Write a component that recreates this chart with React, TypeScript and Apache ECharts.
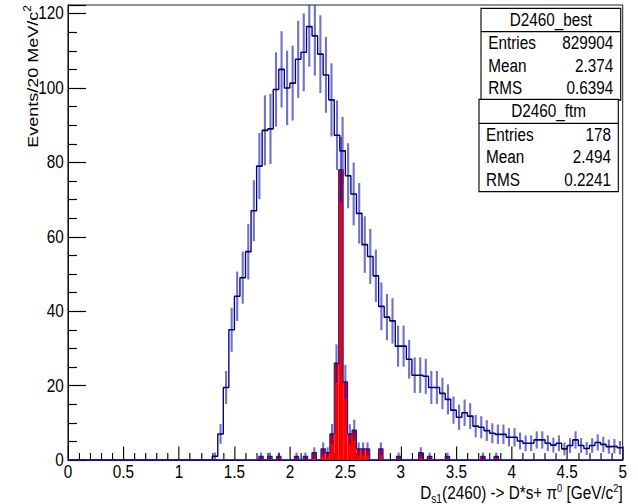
import React, { useEffect, useRef } from 'react';
import * as echarts from 'echarts';

// ---- layout scale (text in the reference is horizontally condensed) ----
const W = 751;
const H = 504;
const S = 638 / W;

// ---- data ----
const BLUE_BIN = 0.05; // D2460_best, 100 bins on [0, 5]
const blueCounts = [
  0, 0, 0, 0, 0, 0, 0, 0, 0, 0,
  0, 0, 0, 0, 0, 0, 0, 0, 0, 0,
  0, 0, 0, 0, 0, 0,
  1, 7, 19.5, 35, 44, 49, 56, 67, 79, 88.6,
  89, 99.6, 105, 100, 101.3, 107.7, 109.6, 116.5, 114, 109.1,
  103.5, 96.8, 87.3, 83.1, 76.4, 71.5, 66.3, 57.9, 54.7, 49.5,
  41.3, 38.4, 37.4, 30.6, 30.6, 27.1, 22.8, 22.8, 22.5, 19.5,
  19.5, 17.9, 16.3, 13.4, 11.5, 12.7, 11.8, 9.1, 8.8, 7.9,
  7.2, 6.9, 6.9, 6.1, 6.1, 5.1, 4.5, 4.5, 5.4, 5.4,
  4.5, 4.0, 4.5, 3.0, 3.9, 5.4, 3.9, 3.1, 3.9, 4.7,
  4.2, 3.6, 3.7, 3.3,
];

const RED_BIN = 0.04; // D2460_ftm, 125 bins on [0, 5]
const redBinStarts = [1.72, 1.8, 1.88, 2.04, 2.12, 2.2, 2.28, 2.32, 2.36, 2.4, 2.44, 2.48, 2.52, 2.56, 2.6, 2.64, 2.68, 2.8, 2.96, 3.16, 3.24, 3.4, 3.72, 3.84];
const redCounts = [1, 1, 1, 1, 1, 2, 3, 2, 7, 26, 78, 21, 7, 8, 3, 3, 3, 3, 1, 2, 1, 1, 1, 1];

const X_MIN = 0;
const X_MAX = 5;
const X_INTERVAL = 0.5;
const Y_MIN = 0;
const Y_MAX = 122.3;
const Y_INTERVAL = 20;

const statBestTitle = 'D2460_best';
const statBestLabels = ['Entries', 'Mean', 'RMS'];
const statBestValues = ['829904', '2.374', '0.6394'];
const statFtmTitle = 'D2460_ftm';
const statFtmLabels = ['Entries', 'Mean', 'RMS'];
const statFtmValues = ['178', '2.494', '0.2241'];

const yTitle = 'Events/20 MeV/c';
const FONT = '"Liberation Sans", Arial, Helvetica, sans-serif';

function px(x: number) {
  return x / S;
}

export default function App() {
  const ref = useRef<HTMLDivElement>(null);

  useEffect(() => {
    if (!ref.current) return;
    const chart = echarts.init(ref.current, null, { renderer: 'svg' });

    // blue step outline
    const blueStep: number[][] = [];
    blueCounts.forEach((v, i) => {
      blueStep.push([+(i * BLUE_BIN).toFixed(4), v]);
      blueStep.push([+((i + 1) * BLUE_BIN).toFixed(4), v]);
    });
    const blueErr: number[][] = [];
    blueCounts.forEach((v, i) => {
      if (v > 0) {
        const e = Math.sqrt(v);
        blueErr.push([(i + 0.5) * BLUE_BIN, Math.max(v - e, Y_MIN), Math.min(v + e, Y_MAX)]);
      }
    });

    // red histogram expanded to full bins
    const nRed = Math.round((X_MAX - X_MIN) / RED_BIN);
    const redFull = new Array(nRed).fill(0);
    redBinStarts.forEach((s, k) => {
      const idx = Math.round(s / RED_BIN);
      redFull[idx] = redCounts[k];
    });
    const redStep: number[][] = [];
    redFull.forEach((v, i) => {
      redStep.push([+(i * RED_BIN).toFixed(4), v]);
      redStep.push([+((i + 1) * RED_BIN).toFixed(4), v]);
    });
    const redBars: number[][] = [];
    const redErr: number[][] = [];
    redFull.forEach((v, i) => {
      if (v > 0) {
        redBars.push([i * RED_BIN, (i + 1) * RED_BIN, v]);
        const e = Math.sqrt(v);
        redErr.push([(i + 0.5) * RED_BIN, Math.max(v - e, Y_MIN), Math.min(v + e, Y_MAX)]);
      }
    });

    const errColor = 'rgba(10,10,165,0.58)';
    const errRender = (params: any, api: any) => {
      const p1 = api.coord([api.value(0), api.value(1)]);
      const p2 = api.coord([api.value(0), api.value(2)]);
      return {
        type: 'line',
        shape: { x1: p1[0], y1: p1[1], x2: p2[0], y2: p2[1] },
        style: { stroke: errColor, lineWidth: 2.5 },
      };
    };

    const gridLeft = px(68);
    const gridRight = W - px(622.7);

    const statBox = (
      x1: number, x2: number, y1: number, yDiv: number, y2: number,
      title: string, labels: string[], values: string[], rows: number[], titleY: number,
      lx: number, rx: number,
    ) => {
      const els: any[] = [
        {
          type: 'rect',
          shape: { x: px(x1), y: y1, width: px(x2) - px(x1), height: y2 - y1 },
          style: { fill: '#fff', stroke: '#000', lineWidth: 1.3 },
          z: 10,
        },
        {
          type: 'line',
          shape: { x1: px(x1), y1: yDiv, x2: px(x2), y2: yDiv },
          style: { stroke: '#000', lineWidth: 1.3 },
          z: 11,
        },
        {
          type: 'text',
          x: (px(x1) + px(x2)) / 2,
          y: titleY,
          style: { text: title, fontSize: 18, fontFamily: FONT, fill: '#000', align: 'center', verticalAlign: 'middle' },
          z: 11,
        },
      ];
      labels.forEach((l, i) => {
        els.push({
          type: 'text',
          x: px(lx),
          y: rows[i],
          style: { text: l, fontSize: 18, fontFamily: FONT, fill: '#000', align: 'left', verticalAlign: 'middle' },
          z: 11,
        });
        els.push({
          type: 'text',
          x: px(rx),
          y: rows[i],
          style: { text: values[i], fontSize: 18, fontFamily: FONT, fill: '#000', align: 'right', verticalAlign: 'middle' },
          z: 11,
        });
      });
      return els;
    };

    const option: any = {
      animation: false,
      backgroundColor: '#fff',
      grid: {
        left: gridLeft,
        right: gridRight,
        top: 5,
        bottom: H - 460,
        show: true,
        borderColor: '#222',
        borderWidth: 1.2,
        backgroundColor: 'transparent',
      },
      xAxis: {
        type: 'value',
        min: X_MIN,
        max: X_MAX,
        interval: X_INTERVAL,
        axisLine: { show: true, onZero: false, lineStyle: { color: '#000080', width: 1.2 } },
        axisTick: { show: true, inside: true, length: 13.5, lineStyle: { color: '#000', width: 1.3 } },
        minorTick: { show: true, splitNumber: 5, length: 7, lineStyle: { color: '#000', width: 1.3 } },
        splitLine: { show: false },
        axisLabel: { fontSize: 18, fontFamily: FONT, color: '#000', margin: 3.5 },
      },
      yAxis: {
        type: 'value',
        min: Y_MIN,
        max: Y_MAX,
        interval: Y_INTERVAL,
        axisLine: { show: true, lineStyle: { color: '#000', width: 1.2 } },
        axisTick: { show: true, inside: true, length: px(18), lineStyle: { color: '#000', width: 1.2 } },
        minorTick: { show: true, splitNumber: 4, length: px(9), lineStyle: { color: '#000', width: 1.2 } },
        splitLine: { show: false },
        axisLabel: { fontSize: 18, fontFamily: FONT, color: '#000', margin: 5, showMaxLabel: false },
      },
      series: [
        {
          type: 'custom',
          name: 'bluErr',
          renderItem: errRender,
          data: blueErr,
          encode: { x: 0, y: [1, 2] },
          silent: true,
          z: 2,
        },
        {
          type: 'line',
          name: 'D2460_best',
          data: blueStep,
          showSymbol: false,
          symbol: 'none',
          lineStyle: { color: '#00007a', width: 1.6 },
          silent: true,
          z: 3,
        },
        {
          type: 'custom',
          name: 'redFill',
          renderItem: (params: any, api: any) => {
            const a = api.coord([api.value(0), api.value(2)]);
            const b = api.coord([api.value(1), 0]);
            return {
              type: 'rect',
              shape: { x: a[0], y: a[1], width: b[0] - a[0], height: b[1] - a[1] },
              style: { fill: '#ff0000' },
            };
          },
          data: redBars,
          encode: { x: [0, 1], y: 2 },
          silent: true,
          z: 4,
        },
        {
          type: 'line',
          name: 'D2460_ftm',
          data: redStep,
          showSymbol: false,
          symbol: 'none',
          lineStyle: { color: '#1a1a9a', width: 1.3 },
          silent: true,
          z: 5,
        },
        {
          type: 'custom',
          name: 'redErr',
          renderItem: errRender,
          data: redErr,
          encode: { x: 0, y: [1, 2] },
          silent: true,
          z: 6,
        },
      ],
      graphic: [
        {
          type: 'text',
          x: px(32.5),
          y: 5,
          rotation: Math.PI / 2,
          style: {
            text: '{m|' + yTitle + '}{s|2}',
            align: 'right',
            verticalAlign: 'middle',
            fill: '#000',
            rich: {
              m: { fontSize: 18, lineHeight: 24, fontFamily: FONT, fill: '#000' },
              s: { fontSize: 12, lineHeight: 12, fontFamily: FONT, verticalAlign: 'top', fill: '#000' },
            },
          },
        },
        {
          type: 'text',
          x: px(622.7),
          y: 493.5,
          style: {
            text: '{m|D}{b|s1}{m|(2460) -> D*s+ π}{t|0}{m| [GeV/c}{t|2}{m|]}',
            align: 'right',
            verticalAlign: 'middle',
            fill: '#000',
            rich: {
              m: { fontSize: 18, lineHeight: 22, fontFamily: FONT, fill: '#000' },
              b: { fontSize: 12, lineHeight: 12, fontFamily: FONT, verticalAlign: 'bottom', fill: '#000' },
              t: { fontSize: 11, lineHeight: 13, fontFamily: FONT, verticalAlign: 'top', fill: '#000' },
            },
          },
        },
        ...statBox(481, 620.7, 8.3, 31.7, 100, statBestTitle, statBestLabels, statBestValues, [43.3, 65.7, 88.3], 19.8, 488.3, 613.3),
        ...statBox(479, 618.3, 99.3, 123.3, 191.7, statFtmTitle, statFtmLabels, statFtmValues, [135, 157.3, 180], 111.5, 486, 611),
      ],
    };

    chart.setOption(option);
    return () => chart.dispose();
  }, []);

  return (
    <div
      style={{
        position: 'fixed',
        left: 0,
        top: 0,
        width: 638,
        height: 504,
        overflow: 'hidden',
        background: '#fff',
      }}
    >
      <div
        ref={ref}
        style={{ width: W, height: H, transform: `scaleX(${S})`, transformOrigin: '0 0' }}
      />
    </div>
  );
}
